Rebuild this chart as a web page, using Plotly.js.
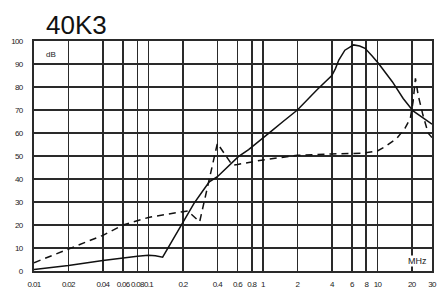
<!DOCTYPE html>
<html>
<head>
<meta charset="utf-8">
<script src="https://cdn.plot.ly/plotly-3.0.1.min.js"></script>
<style>
html,body{margin:0;padding:0;background:#fff;}
#chart{width:438px;height:291px;}
.xtick text, .ytick text{letter-spacing:-0.7px;}
</style>
</head>
<body>
<div id="chart"></div>
<script>
// Frequency ticks (MHz)
const tickVals = [0.01,0.02,0.04,0.06,0.08,0.1,0.2,0.4,0.6,0.8,1,2,4,6,8,10,20,30];
const tickText = ["0.01","0.02","0.04","0.06","0.08","0.1","0.2","0.4","0.6","0.8","1","2","4","6","8","10","20","30"];

// Solid curve
const solidFreq = [0.01,0.02,0.04,0.06,0.08,0.1,0.115,0.133,0.2,0.25,0.3,0.34,0.4,0.5,0.61,0.75,0.92,1.2,1.5,2,3,4,4.3,4.6,5.2,6.2,7,7.8,9,10.2,13.5,16.8,20.5,25,30];
const solidDb   = [0.7,2.4,4.6,5.8,6.4,6.8,6.6,6.0,21,29.4,35,38.8,41,45.5,49.7,52.8,56.2,61,65,70,79,85,88,91.7,96,98.3,97.8,96.8,93.5,90.3,82.3,75,69.6,66.5,63.8];

// Dashed curve
const dashFreq = [0.01,0.02,0.04,0.06,0.08,0.1,0.2,0.22,0.28,0.4,0.54,0.6,1,2,4,7.3,10,11.6,14.8,17.4,19.4,20.5,21.5,22.7,25,27.8,30];
const dashDb   = [3.6,9.7,15.5,20,21.8,23.3,25.8,26.1,21.4,55.5,46,46.3,48.3,50.3,50.9,51.2,52.2,54,57.7,62,66.4,73.6,83.8,76.5,67.8,59.9,58];

const narrow = "Liberation Sans Narrow, Arial Narrow, Liberation Sans, Arial, sans-serif";
const gridCol = "#2a2a2a";

const traces = [
  {x: solidFreq, y: solidDb, mode: "lines", type: "scatter",
   line: {color: "#111", width: 1.5}, hoverinfo: "skip"},
  {x: dashFreq, y: dashDb, mode: "lines", type: "scatter",
   line: {color: "#111", width: 1.5, dash: "7px,5px"}, hoverinfo: "skip"}
];

const layout = {
  width: 438, height: 291,
  margin: {l: 34, r: 6, t: 41, b: 20},
  paper_bgcolor: "#fff", plot_bgcolor: "#fff",
  showlegend: false,
  title: {text: "40K3", font: {family: "Liberation Sans, Arial, sans-serif", size: 26, color: "#111"},
          xref: "container", yref: "container", x: 46/438, xanchor: "left", y: 1 - 25/291, yanchor: "middle"},
  xaxis: {type: "log", range: [-2, Math.log10(30)], tickmode: "array", tickvals: tickVals, ticktext: tickText,
          showgrid: true, gridcolor: gridCol, gridwidth: 1.6,
          showline: true, linecolor: gridCol, linewidth: 2, mirror: true,
          ticks: "outside", ticklen: 4, tickcolor: "rgba(0,0,0,0)", tickangle: 0,
          tickfont: {family: narrow, size: 8, color: "#222"}, zeroline: false, fixedrange: true},
  yaxis: {range: [0, 100], tickmode: "linear", tick0: 0, dtick: 10,
          showgrid: true, gridcolor: gridCol, gridwidth: 1.6,
          showline: true, linecolor: gridCol, linewidth: 2, mirror: true,
          ticks: "outside", ticklen: 8, tickcolor: "rgba(0,0,0,0)",
          tickfont: {family: narrow, size: 8, color: "#222"}, zeroline: false, fixedrange: true},
  annotations: [
    {text: "dB", xref: "paper", yref: "paper", x: (50.5-34)/398, y: (271-54.5)/230,
     xanchor: "center", yanchor: "middle", showarrow: false, font: {family: narrow, size: 8, color: "#222"}},
    {text: "MHz", xref: "paper", yref: "paper", x: (417-34)/398, y: (271-260.5)/230,
     xanchor: "center", yanchor: "middle", showarrow: false, bgcolor: "#fff", borderpad: 0,
     font: {family: narrow, size: 9, color: "#222"}}
  ]
};

Plotly.newPlot("chart", traces, layout, {staticPlot: true, displayModeBar: false});
</script>
</body>
</html>
